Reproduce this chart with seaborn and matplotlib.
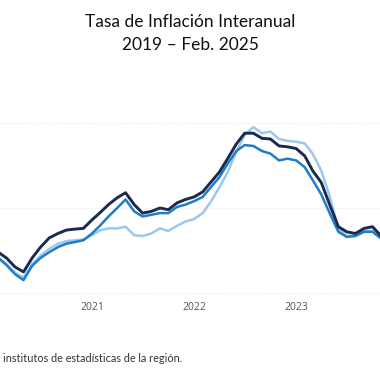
import matplotlib
matplotlib.use('Agg')
import matplotlib.pyplot as plt
import matplotlib.dates as mdates
import pandas as pd
import seaborn as sns

# Monthly year-on-year inflation (%), Jan 2020 - Nov 2023
months = pd.date_range('2020-01-01', periods=47, freq='MS')

serie_oscura = [2.5, 2.4, 2.06, 1.53, 1.24, 2.06, 2.7, 3.24, 3.5, 3.7, 3.76, 3.8,
                4.3, 4.76, 5.2, 5.6, 5.9, 5.2, 4.7, 4.8, 5.0, 4.9, 5.3, 5.5,
                5.65, 5.95, 6.5, 7.1, 7.9, 8.76, 9.4, 9.4, 9.1, 9.06, 8.65, 8.6,
                8.5, 8.06, 7.2, 6.5, 5.2, 3.9, 3.6, 3.5, 3.8, 3.9, 3.35]
serie_media = [2.2, 2.06, 1.65, 1.1, 0.76, 1.6, 2.06, 2.4, 2.7, 2.9, 3.0, 3.1,
               3.5, 4.0, 4.5, 5.0, 5.5, 4.8, 4.5, 4.6, 4.7, 4.7, 5.06, 5.2,
               5.4, 5.65, 6.2, 6.8, 7.6, 8.35, 8.7, 8.65, 8.35, 8.2, 7.8, 7.9,
               7.8, 7.4, 6.65, 5.8, 4.7, 3.6, 3.3, 3.35, 3.6, 3.6, 3.2]
serie_clara = [2.2, 2.1, 1.7, 1.2, 0.9, 1.7, 2.2, 2.6, 2.9, 3.05, 3.1, 3.15,
               3.4, 3.7, 3.8, 3.8, 3.9, 3.4, 3.35, 3.5, 3.8, 3.65, 3.95, 4.2,
               4.35, 4.7, 5.35, 6.2, 7.1, 8.3, 9.3, 9.76, 9.4, 9.5, 9.06, 8.95,
               8.9, 8.8, 8.2, 7.2, 5.7, 3.8, 3.35, 3.4, 3.65, 3.65, 3.25]

df = pd.DataFrame({'fecha': list(months) * 3,
                   'valor': serie_clara + serie_media + serie_oscura,
                   'serie': ['Serie clara'] * 47 + ['Serie media'] * 47 + ['Serie oscura'] * 47})

colores = {'Serie clara': '#9cc8ee', 'Serie media': '#1f7cc8', 'Serie oscura': '#1a2a4a'}

sns.set_style('white')
fig = plt.figure(figsize=(3.8, 3.8), dpi=100)
# data 0 sits at pixel row 293, 10 at row 123 (17 px per point)
ax = fig.add_axes([0, 1 - 298 / 380, 1, 218 / 380])

sns.lineplot(data=df, x='fecha', y='valor', hue='serie', palette=colores,
             linewidth=1.8, legend=False, ax=ax)
ax.lines[2].set_linewidth(2.1)

ax.set_xlim(pd.Timestamp('2020-02-07'), pd.Timestamp('2023-10-28'))
ax.set_ylim(-5 / 17, 12.53)
ax.set_yticks([0, 5, 10])
ax.yaxis.grid(True, color='#e9e9e9', linestyle=(0, (1, 1.5)), linewidth=0.8)
ax.set_axisbelow(True)
ax.set_yticklabels([])
ax.tick_params(axis='y', length=0)
ax.xaxis.set_major_locator(mdates.YearLocator())
ax.xaxis.set_major_formatter(mdates.DateFormatter('%Y'))
ax.tick_params(axis='x', length=0, pad=3, labelsize=7.5, labelcolor='#555555')
for lbl in ax.get_xticklabels():
    lbl.set_fontfamily('Open Sans')
ax.set_xlabel('')
ax.set_ylabel('')
sns.despine(ax=ax, left=True, bottom=True)

fig.text(0.5, 1 - 22 / 380, 'Tasa de Inflación Interanual', ha='center', va='center',
         fontsize=12.5, family='Lato', color='#111111')
fig.text(0.5, 1 - 45 / 380, '2019 – Feb. 2025', ha='center', va='center',
         fontsize=12.5, family='Lato', color='#111111')
fig.text(3 / 380, 1 - 358 / 380, 'institutos de estadísticas de la región.', ha='left',
         va='center', fontsize=7.8, family='Lato', color='#333333')

fig.savefig('out.png', dpi=100)
